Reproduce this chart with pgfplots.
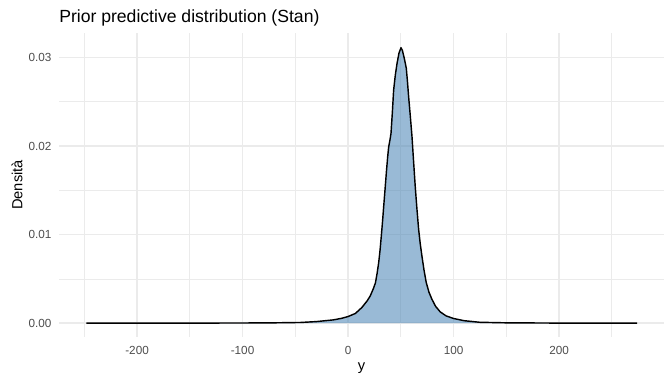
\documentclass[border=0pt]{standalone}
\usepackage{pgfplots}
\pgfplotsset{compat=1.18}
\usepackage{fontspec}
\setmainfont{Liberation Sans}
\definecolor{gridc}{RGB}{235,235,235}
\definecolor{ticktxt}{RGB}{77,77,77}
\definecolor{steel}{RGB}{70,130,180}
\pgfplotstableread{
x y
-248 0
-200 0.000005
-150 0.00001
-100 0.00002
-70 0.00004
-45 0.00008
-30 0.00018
-14 0.00037
-6 0.00055
0 0.00075
7 0.0011
13 0.00176
18 0.0025
21 0.00307
24 0.0039
26 0.00457
27.5 0.0056
29 0.0068
30.3 0.0082
31.5 0.0098
32.7 0.0115
33.8 0.0132
35 0.0150
36.3 0.0170
37.5 0.0187
38.5 0.0199
39.6 0.0206
40.7 0.0214
42 0.0238
43.2 0.0263
44.8 0.0280
46.4 0.0293
48.3 0.0305
50.2 0.0311
51.5 0.0308
53.3 0.0299
55.2 0.0288
56.3 0.0273
57.4 0.0256
59 0.0234
60.6 0.0211
62.1 0.0183
63.7 0.0154
65.3 0.0129
66.9 0.0106
68.4 0.0090
70.0 0.0076
72 0.0060
74.1 0.0046
76.7 0.0035
79.5 0.0027
83 0.0019
87.4 0.00127
93 0.00082
100 0.00053
110 0.00028
125 0.00010
150 0.00004
200 0.00001
274 0
}\dens
\begin{document}
\begin{tikzpicture}
\path[use as bounding box] (0,0) rectangle (504pt,288pt);
\begin{axis}[
  at={(44.25pt,35.25pt)}, anchor=south west,
  scale only axis, width=453.75pt, height=228pt,
  xmin=-274, xmax=299.5, ymin=-0.00156, ymax=0.03276,
  scaled y ticks=false, scaled x ticks=false,
  axis line style={draw=none},
  major tick style={draw=none}, minor tick style={draw=none},
  xtick={-200,-100,0,100,200},
  xticklabels={-200,-100,0,100,200},
  minor xtick={-250,-150,-50,50,150,250},
  ytick={0,0.01,0.02,0.03},
  yticklabels={0.00,0.01,0.02,0.03},
  minor ytick={0.005,0.015,0.025},
  grid=both,
  major grid style={draw=gridc, line width=1.07pt},
  minor grid style={draw=gridc, line width=0.53pt},
  tick label style={font=\fontsize{8.8}{10}\selectfont, text=ticktxt, inner sep=0pt},
  xticklabel style={anchor=north, yshift=-6.7pt},
  yticklabel style={anchor=east, xshift=-5.45pt},
  title={Prior predictive distribution (Stan)},
  title style={at={(axis description cs:0,1.0081)}, anchor=base west, inner sep=0pt, font=\fontsize{13.2}{15}\selectfont},
  xlabel={y},
  xlabel style={at={(axis description cs:0.5,-0.1094)}, anchor=base, inner sep=0pt, font=\fontsize{11}{13}\selectfont},
  ylabel={Densità},
  ylabel style={at={(axis description cs:-0.0607,0.5)}, anchor=base, inner sep=0pt, font=\fontsize{11}{13}\selectfont},
  clip=false,
]
\addplot[draw=none, fill=steel, fill opacity=0.55] table[x=x,y=y]{\dens} \closedcycle;
\addplot[black, line width=1.07pt, line join=round] table[x=x,y=y]{\dens};
\end{axis}
\end{tikzpicture}
\end{document}
